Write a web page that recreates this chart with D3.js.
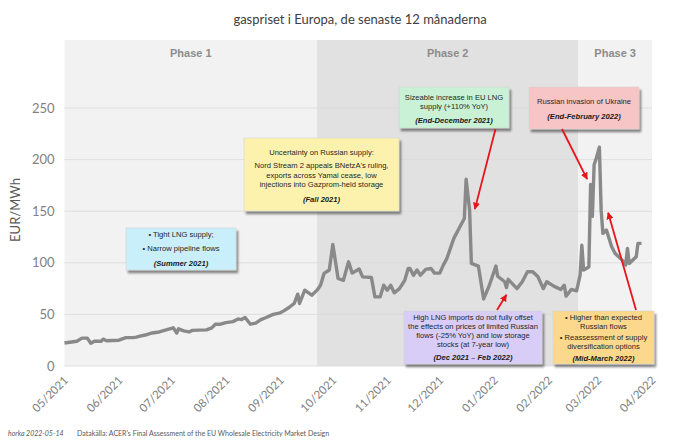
<!DOCTYPE html>
<html><head><meta charset="utf-8">
<script src="https://cdn.jsdelivr.net/npm/d3@7"></script>
<style>
body{margin:0;background:#fff;}
svg{display:block;}
</style>
</head><body>
<svg id="c" width="700" height="445"></svg>
<script>
// ---- data ----
const dates = ["2021-05-01","2021-05-08","2021-05-11","2021-05-14","2021-05-16","2021-05-18","2021-05-22","2021-05-23","2021-05-25",
"2021-06-01","2021-06-05","2021-06-09","2021-06-11","2021-06-13","2021-06-16","2021-06-20","2021-06-24","2021-06-28",
"2021-07-02","2021-07-04","2021-07-05","2021-07-08","2021-07-11","2021-07-13","2021-07-21","2021-07-24","2021-07-26","2021-07-29",
"2021-08-01","2021-08-05","2021-08-08","2021-08-10","2021-08-12","2021-08-15","2021-08-18","2021-08-21","2021-08-24","2021-08-28",
"2021-09-01","2021-09-03","2021-09-06","2021-09-09","2021-09-11","2021-09-12","2021-09-15","2021-09-19","2021-09-22","2021-09-24","2021-09-26","2021-09-29",
"2021-10-01","2021-10-04","2021-10-07","2021-10-10","2021-10-12","2021-10-16","2021-10-18","2021-10-23","2021-10-25","2021-10-28","2021-10-30",
"2021-11-01","2021-11-03","2021-11-05","2021-11-08","2021-11-11","2021-11-13","2021-11-14","2021-11-16","2021-11-18","2021-11-20","2021-11-23","2021-11-26","2021-11-28",
"2021-12-01","2021-12-03","2021-12-05","2021-12-09","2021-12-13","2021-12-15","2021-12-16","2021-12-18","2021-12-19","2021-12-23","2021-12-26","2021-12-29",
"2022-01-02","2022-01-03","2022-01-07","2022-01-08","2022-01-09","2022-01-14","2022-01-17","2022-01-20","2022-01-23","2022-01-26","2022-01-29","2022-01-31",
"2022-02-04","2022-02-08","2022-02-10","2022-02-11","2022-02-14","2022-02-17","2022-02-19","2022-02-20","2022-02-21","2022-02-24","2022-02-25","2022-02-26","2022-02-27","2022-02-28",
"2022-03-02","2022-03-03","2022-03-04","2022-03-06","2022-03-09","2022-03-11","2022-03-15","2022-03-17","2022-03-18","2022-03-19","2022-03-23","2022-03-24","2022-03-26"];
const prices = [22.3,24,27,27,22,24,24,26,24.5,
25,27.5,27.5,28,29,30,32,33,35,
37,32,36,34,33,34.5,35,37,40.5,40.5,
42,43,45.6,45,47,40.5,41.5,45,47,50,
51.5,53.4,56.7,60.6,69.6,60.6,73.5,68.6,73.5,78.3,89.7,93,
117.8,84.8,83,101,90,94,86.4,85.8,67,67,78.3,
73.5,78.3,70.9,75,83,94.5,94.5,88,93,88,93.6,94.5,90,
90,97.8,104,123.7,136.6,143,181,151,99.4,96.8,65,77,
96.8,87,81.6,76,84,75,81.6,91.3,91.3,86.4,75,81.6,
77.4,74.2,78.3,67.7,74.2,72.8,88,117,93,96,176,145,195,200,
212,151,128.5,131.7,115.5,109,102.6,97.8,114,99.4,105.8,118.8,118.8];

const yTicks = [0,50,100,150,200,250];
const monthTicks = ["2021-05-01","2021-06-01","2021-07-01","2021-08-01","2021-09-01","2021-10-01","2021-11-01","2021-12-01","2022-01-01","2022-02-01","2022-03-01","2022-04-01"];
const phaseNames = ["Phase 1","Phase 2","Phase 3"];
const phaseStarts = ["2021-05-01","2021-09-22","2022-02-18"];
const phaseEnds = ["2021-09-22","2022-02-18","2022-04-01"];
const phaseFills = ["#f2f2f2","#e1e1e1","#f2f2f2"];

const title = "gaspriset i Europa, de senaste 12 månaderna";
const yLabel = "EUR/MWh";
const footerLeft = "horka 2022-05-14";
const footerRight = "Datakälla: ACER's Final Assessment of the EU Wholesale Electricity Market Design";

// annotations: box lines (last italic bold), arrow target in data space
const notes = [
  {fill:"#c9effb", box:[126,228,110,42], lines:["• Tight LNG supply;","• Narrow pipeline flows"], lineY:[234,248.5], tag:"(Summer 2021)", tagY:263.5},
  {fill:"#fdf2ad", box:[244,138,155,73], lines:["Uncertainty on Russian supply:","Nord Stream 2 appeals BNetzA's ruling,","exports across Yamal cease, low","injections into Gazprom-held storage"], lineY:[152,165.5,175,184.5], tag:"(Fall 2021)", tagY:199.5},
  {fill:"#c8f1d5", box:[399,87,110,41], lines:["Sizeable increase in EU LNG","supply (+110% YoY)"], lineY:[97.5,106.5], tag:"(End-December 2021)", tagY:120,
    arrow:{from:[495.5,129], date:"2021-12-21", value:152}},
  {fill:"#f8c5c7", box:[529,87,110,42], lines:["Russian invasion of Ukraine"], lineY:[101], tag:"(End-February 2022)", tagY:116,
    arrow:{from:[562,129], date:"2022-02-23", value:181}},
  {fill:"#d8cdf6", box:[404,311,138,53], lines:["High LNG imports do not fully offset","the effects on prices of limited Russian","flows (-25% YoY) and low storage","stocks (at 7-year low)"], lineY:[317.5,326.5,335.5,344.5], tag:"(Dec 2021 – Feb 2022)", tagY:357.5,
    arrow:{from:[497,310], date:"2022-01-08", value:69}},
  {fill:"#fcd88c", box:[553,311,101,53], lines:["• Higher than expected","Russian flows","• Reassessment of supply","diversification options"], lineY:[317.5,326.5,337,346.5], tag:"(Mid-March 2022)", tagY:358.5,
    arrow:{from:[636,310], date:"2022-03-07", value:148.5}}
];

// ---- chart ----
const svg = d3.select("#c");
const parse = d3.timeParse("%Y-%m-%d");
const pLeft = 64.5, pRight = 652, pBottom = 366, pTop = 40;
const x = d3.scaleTime().domain([parse(monthTicks[0]), parse(monthTicks[monthTicks.length-1])]).range([pLeft, pRight]);
const y = d3.scaleLinear().domain([0, 250]).range([pBottom, 108]);

const sans = "'Liberation Sans', Arial, sans-serif";
const cal = "Lato, 'Open Sans', sans-serif";

svg.append("text").attr("x", 360).attr("y", 24).attr("text-anchor","middle")
  .attr("font-family", cal).attr("font-size", 13).attr("fill","#404040").text(title);

// phases
const pg = svg.append("g");
phaseNames.forEach((p,i)=>{
  const x0 = x(parse(phaseStarts[i])), x1 = x(parse(phaseEnds[i]));
  pg.append("rect").attr("x", x0).attr("y", pTop).attr("width", x1-x0).attr("height", pBottom-pTop).attr("fill", phaseFills[i]);
  pg.append("text").attr("x", (x0+x1)/2).attr("y", 57).attr("text-anchor","middle")
    .attr("font-family", sans).attr("font-weight","bold").attr("font-size", 11).attr("fill","#8c8c8c").text(p);
});

// grid
svg.append("g").selectAll("line").data(yTicks).join("line")
  .attr("x1", pLeft).attr("x2", pRight).attr("y1", d=>y(d)).attr("y2", d=>y(d))
  .attr("stroke", "#d9d9d9").attr("stroke-width", 0.8);

// y axis
const ya = svg.append("g").attr("transform", `translate(${pLeft},0)`)
  .call(d3.axisLeft(y).tickValues(yTicks).tickSize(0).tickPadding(10));
ya.select(".domain").remove();
ya.selectAll("text").attr("font-family", cal).attr("font-size", 13).attr("fill","#7f7f7f");

svg.append("text").attr("transform", "translate(20,210) rotate(-90)").attr("text-anchor","middle")
  .attr("font-family", cal).attr("font-size", 13).attr("fill","#595959").text(yLabel);

// x axis
const fmt = d3.timeFormat("%m/%Y");
const xa = svg.append("g").attr("transform", `translate(0,${pBottom})`)
  .call(d3.axisBottom(x).tickValues(monthTicks.map(parse)).tickFormat(fmt).tickSize(0).tickPadding(0));
xa.select(".domain").remove();
xa.selectAll("text").attr("font-family", cal).attr("font-size", 11.5).attr("fill","#7f7f7f")
  .attr("text-anchor","end").attr("dy", 0).attr("transform","translate(4,15) rotate(-45)");

// line
const series = dates.map((d,i)=>({d:parse(d), v:prices[i]}));
svg.append("path").datum(series)
  .attr("d", d3.line().x(d=>x(d.d)).y(d=>y(d.v)))
  .attr("fill","none").attr("stroke","#898989").attr("stroke-width",3.4).attr("stroke-linejoin","round");

// arrow marker
const defs = svg.append("defs");
defs.append("marker").attr("id","ah").attr("viewBox","0 0 10 10").attr("refX",9).attr("refY",5)
  .attr("markerWidth",4).attr("markerHeight",4).attr("orient","auto")
  .append("path").attr("d","M0,0 L10,5 L0,10 z").attr("fill","#e8141b");
const sh = defs.append("filter").attr("id","sh").attr("x","-10%").attr("y","-10%").attr("width","130%").attr("height","140%");
sh.append("feGaussianBlur").attr("in","SourceAlpha").attr("stdDeviation",1.2);
sh.append("feOffset").attr("dx",2).attr("dy",2.5).attr("result","o");
sh.append("feComponentTransfer").append("feFuncA").attr("type","linear").attr("slope",0.45);
const m = sh.append("feMerge"); m.append("feMergeNode"); m.append("feMergeNode").attr("in","SourceGraphic");

notes.forEach(n=>{
  const [bx,by,bw,bh] = n.box;
  const g = svg.append("g");
  g.append("rect").attr("x",bx).attr("y",by).attr("width",bw).attr("height",bh)
    .attr("fill",n.fill).attr("stroke","#d0d0d0").attr("stroke-width",0.5).attr("filter","url(#sh)");
  const cx = bx + bw/2;
  n.lines.forEach((t,i)=>{
    g.append("text").attr("x",cx).attr("y",n.lineY[i]).attr("dy","0.35em").attr("text-anchor","middle")
      .attr("font-family",sans).attr("font-size",7.6).attr("fill","#262626").text(t);
  });
  g.append("text").attr("x",cx).attr("y",n.tagY).attr("dy","0.35em").attr("text-anchor","middle")
    .attr("font-family",sans).attr("font-size",7.6).attr("font-weight","bold").attr("font-style","italic")
    .attr("fill","#1a1a1a").text(n.tag);
  if (n.arrow){
    svg.append("line").attr("x1",n.arrow.from[0]).attr("y1",n.arrow.from[1])
      .attr("x2",x(parse(n.arrow.date))).attr("y2",y(n.arrow.value))
      .attr("stroke","#e8141b").attr("stroke-width",1.8).attr("marker-end","url(#ah)");
  }
});

// footer
svg.append("text").attr("x",8).attr("y",436).attr("font-family",cal).attr("font-style","italic")
  .attr("font-size",7).attr("fill","#595959").text(footerLeft);
svg.append("text").attr("x",77).attr("y",436).attr("font-family",cal)
  .attr("font-size",7).attr("fill","#595959").text(footerRight);
</script>
</body></html>
